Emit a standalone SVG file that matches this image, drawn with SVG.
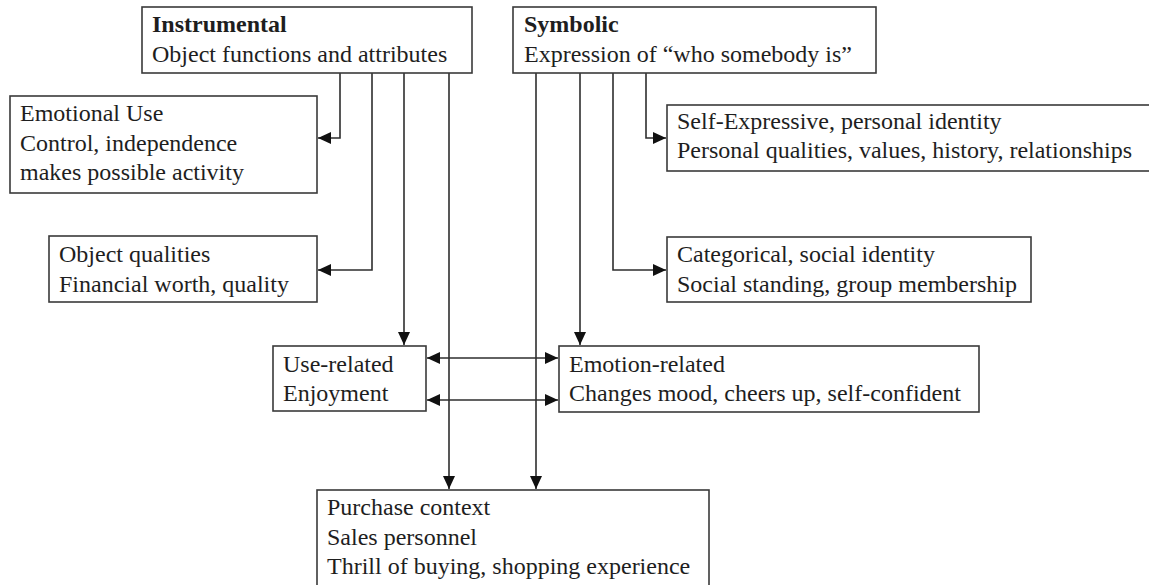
<svg xmlns="http://www.w3.org/2000/svg" width="1149" height="585" viewBox="0 0 1149 585">
  <style>
    .box { fill: #ffffff; stroke: #3a3a3a; stroke-width: 1.6; }
    .t { font-family: "Liberation Serif", "Times New Roman", serif; font-size: 24px; fill: #1e1e1e; }
    .b { font-weight: bold; }
    .link { fill: none; stroke: #2e2e2e; stroke-width: 1.6; }
    .one { marker-end: url(#head); }
    .two { marker-start: url(#head); marker-end: url(#head); }
  </style>
  <defs>
    <marker id="head" viewBox="0 0 13 12" refX="13" refY="6" markerWidth="13" markerHeight="12" markerUnits="userSpaceOnUse" orient="auto-start-reverse">
      <path d="M0,0 L13,6 L0,12 Z" fill="#111111"/>
    </marker>
  </defs>
  <rect width="1149" height="585" fill="#ffffff"/>

  <g id="connectors">
    <!-- from Instrumental -->
    <path class="link one" d="M340,73 V138 H318"/>
    <path class="link one" d="M372,73 V270 H318"/>
    <path class="link one" d="M404,73 V345"/>
    <path class="link one" d="M449,73 V489"/>
    <!-- from Symbolic -->
    <path class="link one" d="M536,73 V489"/>
    <path class="link one" d="M580,73 V345"/>
    <path class="link one" d="M613,73 V270 H666"/>
    <path class="link one" d="M646,73 V138 H666"/>
    <!-- between Use-related and Emotion-related -->
    <path class="link two" d="M427,358 H558"/>
    <path class="link two" d="M427,400 H558"/>
  </g>

  <g id="instrumental">
    <rect class="box" x="142" y="7" width="330" height="66"/>
    <text class="t b" x="152" y="32">Instrumental</text>
    <text class="t" x="152" y="62">Object functions and attributes</text>
  </g>

  <g id="symbolic">
    <rect class="box" x="513" y="7" width="363" height="66"/>
    <text class="t b" x="524" y="32">Symbolic</text>
    <text class="t" x="524" y="62">Expression of “who somebody is”</text>
  </g>

  <g id="emotional-use">
    <rect class="box" x="10" y="96" width="307" height="97"/>
    <text class="t" x="20" y="121">Emotional Use</text>
    <text class="t" x="20" y="151">Control, independence</text>
    <text class="t" x="20" y="180">makes possible activity</text>
  </g>

  <g id="self-expressive">
    <rect class="box" x="667" y="105" width="490" height="66"/>
    <text class="t" x="677" y="129">Self-Expressive, personal identity</text>
    <text class="t" x="677" y="158">Personal qualities, values, history, relationships</text>
  </g>

  <g id="object-qualities">
    <rect class="box" x="49" y="236" width="268" height="66"/>
    <text class="t" x="59" y="262">Object qualities</text>
    <text class="t" x="59" y="292">Financial worth, quality</text>
  </g>

  <g id="categorical">
    <rect class="box" x="667" y="237" width="364" height="65"/>
    <text class="t" x="677" y="262">Categorical, social identity</text>
    <text class="t" x="677" y="292">Social standing, group membership</text>
  </g>

  <g id="use-related">
    <rect class="box" x="273" y="346" width="153" height="65"/>
    <text class="t" x="283" y="372">Use-related</text>
    <text class="t" x="283" y="401">Enjoyment</text>
  </g>

  <g id="emotion-related">
    <rect class="box" x="559" y="346" width="420" height="66"/>
    <text class="t" x="569" y="372">Emotion-related</text>
    <text class="t" x="569" y="401">Changes mood, cheers up, self-confident</text>
  </g>

  <g id="purchase-context">
    <rect class="box" x="317" y="490" width="392" height="110"/>
    <text class="t" x="327" y="515">Purchase context</text>
    <text class="t" x="327" y="545">Sales personnel</text>
    <text class="t" x="327" y="574">Thrill of buying, shopping experience</text>
  </g>
</svg>
